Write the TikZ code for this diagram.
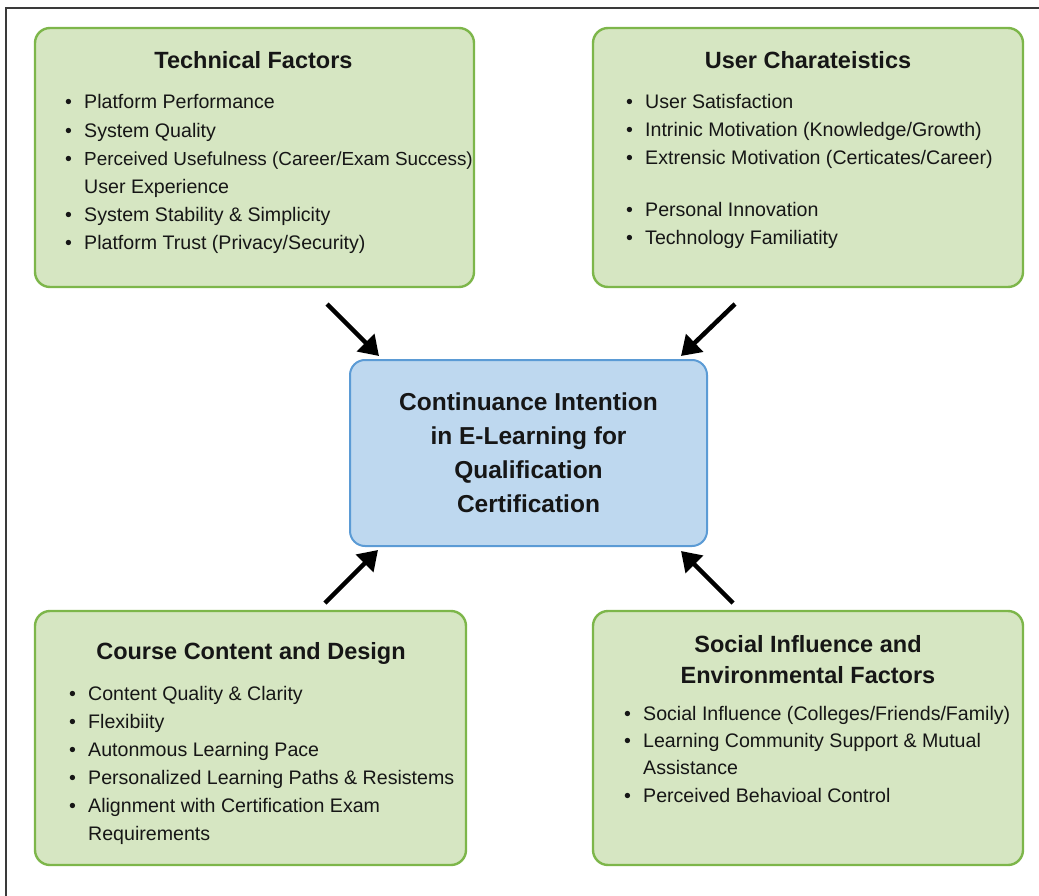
\documentclass[tikz,border=0pt]{standalone}
\usepackage{fontspec}
\setmainfont{Liberation Sans}
\usetikzlibrary{arrows.meta,calc}

\definecolor{ink}{HTML}{161616}
\definecolor{greenfill}{HTML}{D6E6C2}
\definecolor{greenline}{HTML}{7DB64A}
\definecolor{bluefill}{HTML}{BED8EF}
\definecolor{blueline}{HTML}{5B9BD5}
\definecolor{framecol}{HTML}{3A3A3A}

\newcommand{\bul}{\makebox[19pt][l]{\textbullet}}

\tikzset{
  gbox/.style={draw=greenline, fill=greenfill, line width=2.4pt, rounded corners=15pt, inner sep=0pt},
  cbox/.style={draw=blueline, fill=bluefill, line width=2pt, rounded corners=15pt, inner sep=0pt},
  boxtitle/.style={anchor=base, inner sep=0pt, text=ink, font=\bfseries\fontsize{23.5}{31}\selectfont},
  itemlist/.style={anchor=base west, inner sep=0pt, text=ink, font=\fontsize{19.6}{#1}\selectfont},
  itemlist/.default=28.2,
  flow/.style={draw=black, line width=4.5pt, -{Triangle[length=19pt,width=24pt]}}
}

\begin{document}
\begin{tikzpicture}[x=1pt,y=-1pt]
\useasboundingbox (0,0) rectangle (1039,896);

% outer frame (top and left edges)
\draw[framecol, line width=1.5pt] (1039,8) -- (6,8) -- (6,896);

% four factor boxes and the central construct
\node[gbox, minimum width=439pt, minimum height=259pt] (tech) at (254.5,157.5) {};
\node[gbox, minimum width=430pt, minimum height=259pt] (user) at (808,157.5) {};
\node[gbox, minimum width=431pt, minimum height=254pt] (course) at (250.5,738) {};
\node[gbox, minimum width=430pt, minimum height=254pt] (social) at (808,738) {};
\node[cbox, minimum width=357pt, minimum height=186pt] (ci) at (528.5,453) {};

% titles
\node[boxtitle] (techT) at (253.5,69) {Technical Factors};
\node[boxtitle] (userT) at (808,69) {User Charateistics};
\node[boxtitle] (courseT) at (251,659) {Course Content and Design};
\node[boxtitle] (socialT) at (808,652) {\begin{tabular}[t]{@{}c@{}}Social Influence and\\ Environmental Factors\end{tabular}};
\node[boxtitle, font=\bfseries\fontsize{24.5}{34.2}\selectfont] (ciT) at (528.5,410)
  {\begin{tabular}[t]{@{}c@{}}Continuance Intention\\ in E-Learning for\\ Qualification\\ Certification\end{tabular}};

% item lists
\node[itemlist] (techL) at (65,109) {\begin{tabular}[t]{@{}l@{}l@{}}
\bul & Platform Performance\\
\bul & System Quality\\
\bul & {\fontsize{18.9}{28.2}\selectfont Perceived Usefulness (Career/Exam Success)}\\
     & User Experience\\
\bul & System Stability \& Simplicity\\
\bul & Platform Trust (Privacy/Security)
\end{tabular}};

\node[itemlist=28] (userL) at (626,109) {\begin{tabular}[t]{@{}l@{}l@{}}
\bul & User Satisfaction\\
\bul & Intrinic Motivation (Knowledge/Growth)\\
\bul & Extrensic Motivation (Certicates/Career)\\[23.7pt]
\bul & Personal Innovation\\
\bul & Technology Familiatity
\end{tabular}};

\node[itemlist=28] (courseL) at (69,700) {\begin{tabular}[t]{@{}l@{}l@{}}
\bul & Content Quality \& Clarity\\
\bul & Flexibiity\\
\bul & Autonmous Learning Pace\\
\bul & Personalized Learning Paths \& Resistems\\
\bul & Alignment with Certification Exam\\
     & Requirements
\end{tabular}};

\node[itemlist=27.4] (socialL) at (624,720) {\begin{tabular}[t]{@{}l@{}l@{}}
\bul & Social Influence (Colleges/Friends/Family)\\
\bul & Learning Community Support \& Mutual\\
     & Assistance\\
\bul & Perceived Behavioal Control
\end{tabular}};

% arrows into the central construct
\coordinate (techA) at (327,304);
\coordinate (userA) at (735,304);
\coordinate (courseA) at (325,603);
\coordinate (socialA) at (733,603);
\draw[flow] (techA) -- ($(ci.north west)+(30,-3)$);
\draw[flow] (userA) -- ($(ci.north east)+(-27,-3)$);
\draw[flow] (courseA) -- ($(ci.south west)+(29,3)$);
\draw[flow] (socialA) -- ($(ci.south east)+(-27,4)$);
\end{tikzpicture}
\end{document}
